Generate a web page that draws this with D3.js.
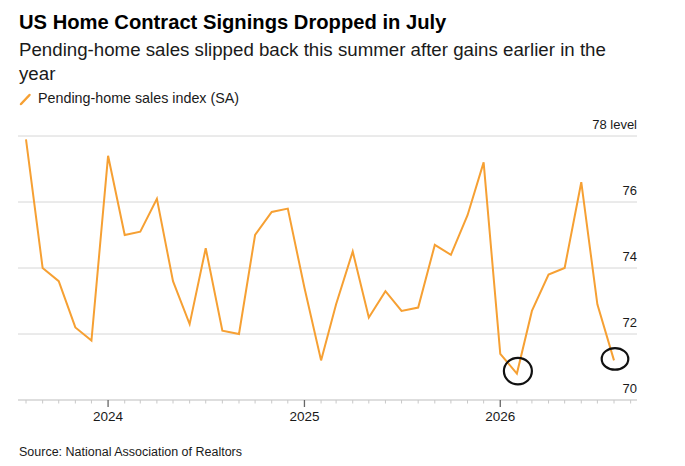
<!DOCTYPE html>
<html>
<head>
<meta charset="utf-8">
<script src="https://cdn.jsdelivr.net/npm/d3@7"></script>
<style>
  html, body { margin: 0; padding: 0; background: #fff; }
  svg { display: block; font-family: "Liberation Sans", Arial, sans-serif; }
</style>
</head>
<body>
<div id="chart"></div>
<script>
// Pending-home sales index (SA), monthly; each value is plotted at the end of its month
const months = [
  '2023-07', '2023-08', '2023-09', '2023-10', '2023-11', '2023-12',
  '2024-01', '2024-02', '2024-03', '2024-04', '2024-05', '2024-06',
  '2024-07', '2024-08', '2024-09', '2024-10', '2024-11', '2024-12',
  '2025-01', '2025-02', '2025-03', '2025-04', '2025-05', '2025-06',
  '2025-07', '2025-08', '2025-09', '2025-10', '2025-11', '2025-12',
  '2026-01', '2026-02', '2026-03', '2026-04', '2026-05', '2026-06',
  '2026-07'
];
const pendingIndex = [
  77.9, 74.0, 73.6, 72.2, 71.8, 77.4,
  75.0, 75.1, 76.1, 73.6, 72.3, 74.6,
  72.1, 72.0, 75.0, 75.7, 75.8, 73.4,
  71.2, 72.9, 74.5, 72.5, 73.3, 72.7,
  72.8, 74.7, 74.4, 75.6, 77.2, 71.4,
  70.8, 72.7, 73.8, 74.0, 76.6, 72.9,
  71.2
];
const yTicks = [70, 72, 74, 76, 78];
const yearTicks = ['2024', '2025', '2026'];
const circledMonths = ['2026-01', '2026-07'];

const W = 685, H = 466;
const plot = { left: 18, right: 637, top: 136, bottom: 400 };
const ORANGE = '#f6a033';

const parseMonth = d3.timeParse('%Y-%m');
const data = months.map((m, i) => ({
  month: m,
  date: d3.timeMonth.offset(parseMonth(m), 1),
  value: pendingIndex[i]
}));

const svg = d3.select('#chart').append('svg')
  .attr('width', W).attr('height', H);

// Header
svg.append('text')
  .attr('x', 19).attr('y', 28.5)
  .attr('font-size', 20.2).attr('font-weight', 700).attr('fill', '#000')
  .text('US Home Contract Signings Dropped in July');

const sub = svg.append('text')
  .attr('x', 19).attr('font-size', 18.7).attr('fill', '#1a1a1a');
sub.append('tspan').attr('x', 19).attr('y', 55.5)
  .text('Pending-home sales slipped back this summer after gains earlier in the');
sub.append('tspan').attr('x', 19).attr('y', 79.5).text('year');

// Legend
svg.append('line')
  .attr('x1', 21).attr('y1', 104).attr('x2', 29.5).attr('y2', 95)
  .attr('stroke', ORANGE).attr('stroke-width', 2.5).attr('stroke-linecap', 'round');
svg.append('text')
  .attr('x', 38).attr('y', 103.3)
  .attr('font-size', 14.3).attr('fill', '#1a1a1a')
  .text('Pending-home sales index (SA)');

// Scales
const first = data[0].date, last = data[data.length - 1].date;
const x = d3.scaleTime().domain([first, last]).range([26, 614]);
const y = d3.scaleLinear().domain([70, 78]).range([plot.bottom, plot.top]);

// Gridlines
svg.append('g')
  .selectAll('line')
  .data(yTicks.filter(v => v !== 70))
  .join('line')
  .attr('x1', plot.left).attr('x2', plot.right)
  .attr('y1', d => y(d)).attr('y2', d => y(d))
  .attr('stroke', '#d6d6d6').attr('stroke-width', 1);

// Y labels (right, above gridlines)
svg.append('g')
  .selectAll('text')
  .data(yTicks)
  .join('text')
  .attr('x', plot.right).attr('y', d => y(d) - 7)
  .attr('text-anchor', 'end')
  .attr('font-size', 13).attr('fill', '#1a1a1a')
  .text(d => d === 78 ? '78 level' : d);

// X axis: baseline + monthly ticks + year ticks
const monthTicks = d3.timeMonth.range(d3.timeMonth.ceil(x.invert(plot.left)), x.invert(plot.right));
const years = yearTicks.map(yr => d3.timeParse('%Y')(yr));

svg.append('line')
  .attr('x1', plot.left).attr('x2', plot.right)
  .attr('y1', plot.bottom).attr('y2', plot.bottom)
  .attr('stroke', '#bdbdbd').attr('stroke-width', 1);

svg.append('g')
  .selectAll('line')
  .data(monthTicks.filter(d => d.getMonth() !== 0))
  .join('line')
  .attr('x1', d => x(d)).attr('x2', d => x(d))
  .attr('y1', plot.bottom).attr('y2', plot.bottom + 3.5)
  .attr('stroke', '#c8c8c8').attr('stroke-width', 1);

svg.append('g')
  .selectAll('line')
  .data(years)
  .join('line')
  .attr('x1', d => x(d)).attr('x2', d => x(d))
  .attr('y1', plot.bottom).attr('y2', plot.bottom + 7)
  .attr('stroke', '#666').attr('stroke-width', 1.3);

svg.append('g')
  .selectAll('text')
  .data(years)
  .join('text')
  .attr('x', d => x(d)).attr('y', 421)
  .attr('text-anchor', 'middle')
  .attr('font-size', 13.5).attr('fill', '#1a1a1a')
  .text(d => d3.timeFormat('%Y')(d));

// Series line
const line = d3.line()
  .x(d => x(d.date))
  .y(d => y(d.value));

svg.append('path')
  .datum(data)
  .attr('d', line)
  .attr('fill', 'none')
  .attr('stroke', ORANGE)
  .attr('stroke-width', 2)
  .attr('stroke-linejoin', 'miter');

// Hand-drawn style circles around the two lows
const rings = data.filter(d => circledMonths.includes(d.month));
svg.append('g')
  .selectAll('ellipse')
  .data(rings)
  .join('ellipse')
  .attr('cx', d => x(d.date) + 1)
  .attr('cy', (d, i) => y(d.value) - (i === 0 ? 2.5 : 1.5))
  .attr('rx', (d, i) => i === 0 ? 14 : 13.3)
  .attr('ry', (d, i) => i === 0 ? 13.2 : 10.8)
  .attr('fill', 'none')
  .attr('stroke', '#111')
  .attr('stroke-width', 2.2);

// Source
svg.append('text')
  .attr('x', 19).attr('y', 456)
  .attr('font-size', 12.5).attr('fill', '#1a1a1a')
  .text('Source: National Association of Realtors');
</script>
</body>
</html>
